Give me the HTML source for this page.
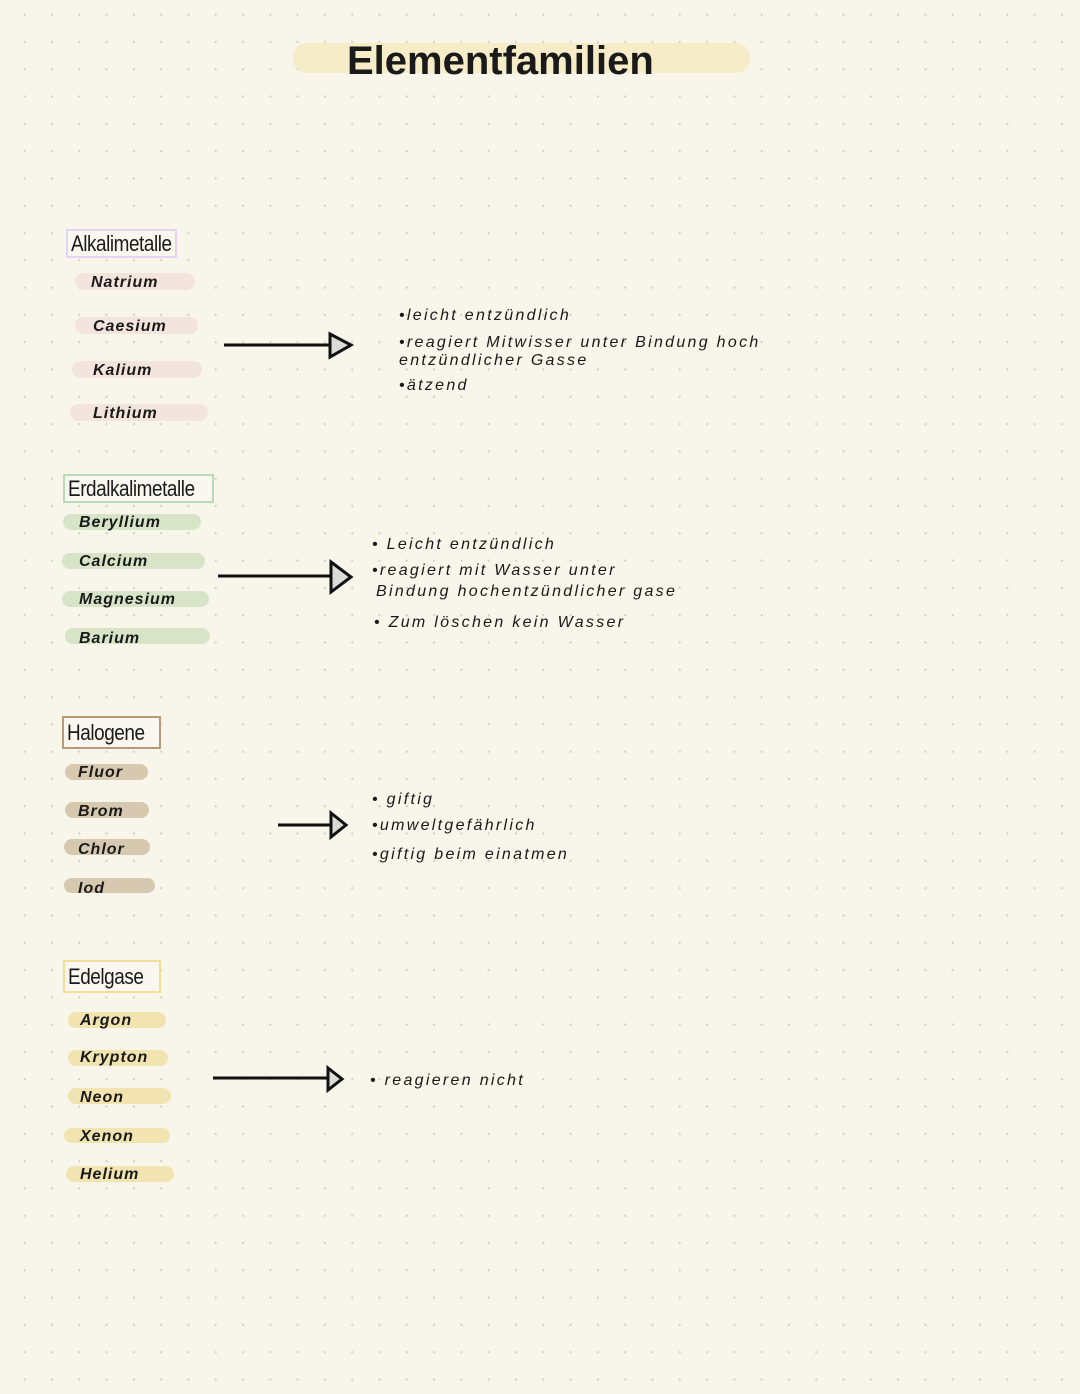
<!DOCTYPE html>
<html><head><meta charset="utf-8"><style>
html,body{margin:0;padding:0}
body{width:1080px;height:1394px;position:relative;overflow:hidden;background-color:#f8f5ea;
background-image:radial-gradient(circle,#d6d2c6 1px,transparent 1.3px);background-size:27.3px 27.3px;background-position:11px 1px;
font-family:"Liberation Sans",sans-serif;color:#1a1a1a}
.a{position:absolute;white-space:nowrap}
.box{position:absolute;box-sizing:border-box;border:2px solid;font-size:22px;padding-left:3px;line-height:26px;background:#f9f7ef;overflow:hidden;white-space:nowrap}
.box span{display:inline-block;transform:scaleX(0.86);transform-origin:left center;letter-spacing:-0.5px}
.pill{position:absolute;border-radius:9px}
.pt{position:absolute;font-size:16px;font-weight:bold;font-style:italic;letter-spacing:1px;white-space:nowrap;line-height:18px}
.t{position:absolute;font-size:16px;font-style:italic;letter-spacing:2.3px;white-space:nowrap;line-height:18px}
</style></head><body>
<div class="a" style="left:293px;top:43px;width:457px;height:30px;background:#f6ecc8;border-radius:14px"></div>
<div class="a" style="left:347px;top:36px;font-size:40px;font-weight:bold;line-height:50px">Elementfamilien</div>

<div class="box" style="left:66px;top:229px;width:111px;height:29px;border-color:#e4d4f2"><span>Alkalimetalle</span></div>
<div class="pill" style="left:75px;top:273px;width:120px;height:17px;background:#f4e4de"></div><div class="pt" style="left:91px;top:274px">Natrium</div>
<div class="pill" style="left:75px;top:317px;width:123px;height:17px;background:#f4e4de"></div><div class="pt" style="left:93px;top:318px">Caesium</div>
<div class="pill" style="left:72px;top:361px;width:130px;height:17px;background:#f4e4de"></div><div class="pt" style="left:93px;top:362px">Kalium</div>
<div class="pill" style="left:70px;top:404px;width:138px;height:17px;background:#f4e4de"></div><div class="pt" style="left:93px;top:405px">Lithium</div>

<div class="box" style="left:63px;top:474px;width:151px;height:29px;border-color:#b9dab9"><span>Erdalkalimetalle</span></div>
<div class="pill" style="left:63px;top:514px;width:138px;height:16px;background:#d8e4c8"></div><div class="pt" style="left:79px;top:514px">Beryllium</div>
<div class="pill" style="left:62px;top:553px;width:143px;height:16px;background:#d8e4c8"></div><div class="pt" style="left:79px;top:553px">Calcium</div>
<div class="pill" style="left:62px;top:591px;width:147px;height:16px;background:#d8e4c8"></div><div class="pt" style="left:79px;top:591px">Magnesium</div>
<div class="pill" style="left:65px;top:628px;width:145px;height:16px;background:#d8e4c8"></div><div class="pt" style="left:79px;top:630px">Barium</div>

<div class="box" style="left:62px;top:716px;width:99px;height:33px;border-color:#b89a78;line-height:30px"><span>Halogene</span></div>
<div class="pill" style="left:65px;top:764px;width:83px;height:16px;background:#d6c9b0"></div><div class="pt" style="left:78px;top:764px">Fluor</div>
<div class="pill" style="left:65px;top:802px;width:84px;height:16px;background:#d6c9b0"></div><div class="pt" style="left:78px;top:803px">Brom</div>
<div class="pill" style="left:64px;top:839px;width:86px;height:16px;background:#d6c9b0"></div><div class="pt" style="left:78px;top:841px">Chlor</div>
<div class="pill" style="left:64px;top:878px;width:91px;height:15px;background:#d6c9b0"></div><div class="pt" style="left:78px;top:880px">Iod</div>

<div class="box" style="left:63px;top:960px;width:98px;height:33px;border-color:#f2de96;line-height:30px"><span>Edelgase</span></div>
<div class="pill" style="left:68px;top:1012px;width:98px;height:16px;background:#f2e4b0"></div><div class="pt" style="left:80px;top:1012px">Argon</div>
<div class="pill" style="left:68px;top:1050px;width:100px;height:16px;background:#f2e4b0"></div><div class="pt" style="left:80px;top:1049px">Krypton</div>
<div class="pill" style="left:68px;top:1088px;width:103px;height:16px;background:#f2e4b0"></div><div class="pt" style="left:80px;top:1089px">Neon</div>
<div class="pill" style="left:64px;top:1128px;width:106px;height:15px;background:#f2e4b0"></div><div class="pt" style="left:80px;top:1128px">Xenon</div>
<div class="pill" style="left:66px;top:1166px;width:108px;height:16px;background:#f2e4b0"></div><div class="pt" style="left:80px;top:1166px">Helium</div>

<svg class="a" style="left:0;top:0" width="1080" height="1394">
<g stroke="#111" stroke-width="3" fill="#dcdcd6" stroke-linejoin="miter">
<line x1="224" y1="345" x2="330" y2="345"/><polygon points="330,334 351,345 330,357"/>
<line x1="218" y1="576" x2="330" y2="576"/><polygon points="331,562 351,577 331,592"/>
<line x1="278" y1="825" x2="330" y2="825"/><polygon points="331,813 346,825 331,837"/>
<line x1="213" y1="1078" x2="328" y2="1078"/><polygon points="328,1068 342,1079 328,1090"/>
</g></svg>

<div class="t" style="left:399px;top:307px">•leicht entzündlich</div>
<div class="t" style="left:399px;top:334px">•reagiert Mitwisser unter Bindung hoch</div>
<div class="t" style="left:399px;top:352px">entzündlicher Gasse</div>
<div class="t" style="left:399px;top:377px">•ätzend</div>

<div class="t" style="left:372px;top:536px">• Leicht entzündlich</div>
<div class="t" style="left:372px;top:562px">•reagiert mit Wasser unter</div>
<div class="t" style="left:376px;top:583px">Bindung hochentzündlicher gase</div>
<div class="t" style="left:374px;top:614px">• Zum löschen kein Wasser</div>

<div class="t" style="left:372px;top:791px">• giftig</div>
<div class="t" style="left:372px;top:817px">•umweltgefährlich</div>
<div class="t" style="left:372px;top:846px">•giftig beim einatmen</div>

<div class="t" style="left:370px;top:1072px">• reagieren nicht</div>
</body></html>
